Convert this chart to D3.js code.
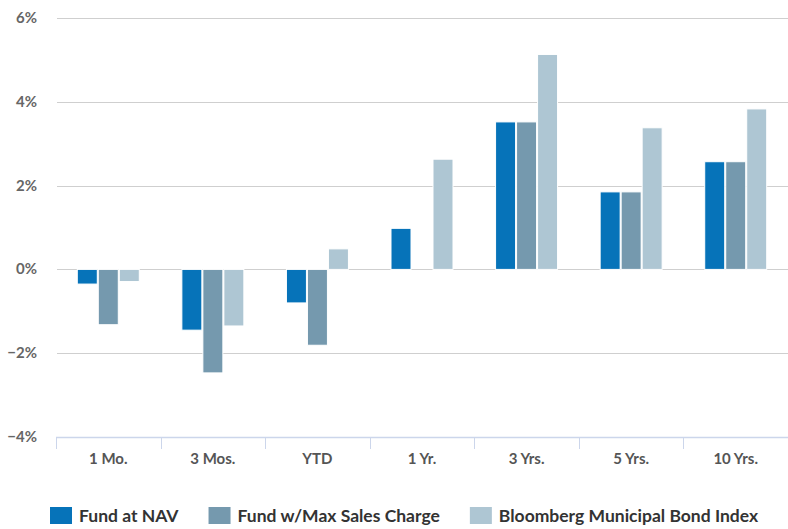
<!DOCTYPE html>
<html>
<head>
<meta charset="utf-8">
<script src="https://cdn.jsdelivr.net/npm/d3@7"></script>
<style>
  html, body { margin: 0; padding: 0; background: #fff; }
  svg { display: block; font-family: Lato, "Open Sans", sans-serif; }
</style>
</head>
<body>
<svg id="chart" width="788" height="529"></svg>
<script>
// Periods along the x axis
const categories = ["1 Mo.", "3 Mos.", "YTD", "1 Yr.", "3 Yrs.", "5 Yrs.", "10 Yrs."];
// Series names in legend order
const seriesNames = ["Fund at NAV", "Fund w/Max Sales Charge", "Bloomberg Municipal Bond Index"];
// Returns (%) per period
const fundAtNav      = [-0.35, -1.45, -0.80, 0.98, 3.52, 1.85, 2.57];
const fundMaxCharge  = [-1.32, -2.47, -1.81, 0.00, 3.52, 1.85, 2.57];
const municipalIndex = [-0.29, -1.35, 0.49, 2.63, 5.13, 3.38, 3.83];
const seriesValues = [fundAtNav, fundMaxCharge, municipalIndex];
// Y axis ticks
const yTicks = [-4, -2, 0, 2, 4, 6];

const colors = ["#0673b9", "#7599ae", "#aec6d3"];

const svg = d3.select("#chart");
const plot = { left: 56, right: 788, top: 18, bottom: 437 };

const x0 = d3.scaleBand().domain(categories).range([plot.left, plot.right]).padding(0);
const x1 = d3.scaleBand().domain(d3.range(seriesNames.length))
  .range([0, x0.bandwidth()]).paddingInner(0).paddingOuter(0.99);
const y = d3.scaleLinear().domain([-4, 6]).range([plot.bottom, plot.top]);

// Horizontal grid lines
svg.append("g").selectAll("line")
  .data(yTicks.filter(t => t !== -4))
  .join("line")
  .attr("x1", plot.left + 1).attr("x2", plot.right)
  .attr("y1", d => Math.round(y(d)) + 0.5).attr("y2", d => Math.round(y(d)) + 0.5)
  .attr("stroke", "#cfcfcf").attr("stroke-width", 1.2);

// Y axis labels
svg.append("g").selectAll("text")
  .data(yTicks)
  .join("text")
  .attr("x", 37).attr("y", d => y(d) + 5)
  .attr("text-anchor", "end")
  .attr("font-size", 15).attr("font-weight", "bold")
  .attr("fill", "#666")
  .text(d => (d < 0 ? "\u2212" + Math.abs(d) : d) + "%");

// Bars
const groups = svg.append("g").selectAll("g")
  .data(categories)
  .join("g")
  .attr("transform", c => `translate(${x0(c)},0)`);

groups.selectAll("rect")
  .data((c, i) => seriesValues.map((vals, s) => ({ s, v: vals[i] })))
  .join("rect")
  .attr("x", d => x1(d.s) + 0.5)
  .attr("width", x1.bandwidth() - 1)
  .attr("y", d => Math.min(y(d.v), y(0)))
  .attr("height", d => Math.abs(y(d.v) - y(0)))
  .attr("fill", d => colors[d.s])
  .attr("stroke", "#fff").attr("stroke-width", 1);

// Bottom axis line and category ticks
const xAxis = svg.append("g").attr("transform", `translate(0,${plot.bottom})`);
xAxis.append("line")
  .attr("x1", plot.left).attr("x2", plot.right).attr("y1", 0.5).attr("y2", 0.5)
  .attr("stroke", "#ccd6eb").attr("stroke-width", 1.5);
xAxis.selectAll(".tick")
  .data(categories.map(c => x0(c)).concat([plot.right]))
  .join("line")
  .attr("class", "tick")
  .attr("x1", d => Math.round(d) + 0.5).attr("x2", d => Math.round(d) + 0.5)
  .attr("y1", 0).attr("y2", 12)
  .attr("stroke", "#ccd6eb");
xAxis.selectAll("text")
  .data(categories)
  .join("text")
  .attr("x", c => x0(c) + x0.bandwidth() / 2)
  .attr("y", 27)
  .attr("text-anchor", "middle")
  .attr("font-size", 15).attr("font-weight", "bold")
  .attr("fill", "#555")
  .text(c => c);

// Legend
const legend = svg.append("g").attr("transform", "translate(50,507)");
let lx = 0;
seriesNames.forEach((name, i) => {
  const item = legend.append("g").attr("transform", `translate(${lx},0)`);
  item.append("rect").attr("width", 22).attr("height", 17).attr("fill", colors[i]);
  const t = item.append("text")
    .attr("x", 29).attr("y", 15)
    .attr("font-size", 17.5).attr("font-weight", "bold")
    .attr("fill", "#333")
    .text(name);
  lx += 29 + t.node().getComputedTextLength() + 30;
});
</script>
</body>
</html>
